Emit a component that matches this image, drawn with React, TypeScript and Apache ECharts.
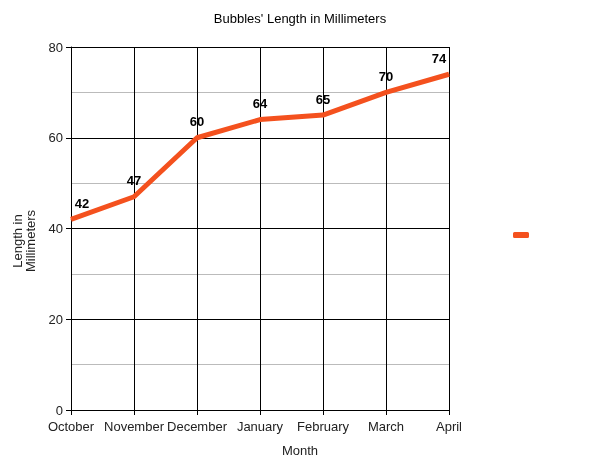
import { useEffect, useRef } from 'react';
import * as echarts from 'echarts';

const months = ['October', 'November', 'December', 'January', 'February', 'March', 'April'];
const lengths = [42, 47, 60, 64, 65, 70, 74];
const yTicks = { min: 0, max: 80, interval: 20 };

const FONT = '"Liberation Sans", Arial, sans-serif';

const App: React.FC = () => {
  const divRef = useRef<HTMLDivElement | null>(null);

  useEffect(() => {
    if (!divRef.current) return;
    const chart = echarts.init(divRef.current, undefined, { renderer: 'svg' });

    const last = lengths.length - 1;
    const options = {
      animation: false,
      textStyle: { fontFamily: FONT },
      title: {
        text: "Bubbles' Length in Millimeters",
        left: 'center',
        top: 7,
        textStyle: { fontFamily: FONT, fontSize: 13, fontWeight: 'normal', color: '#000' },
      },
      legend: {
        left: 508,
        top: 227,
        itemWidth: 16,
        itemHeight: 6,
        icon: 'roundRect',
        formatter: () => '',
        data: [' '],
      },
      grid: { left: 71, right: 151, top: 47, bottom: 53 },
      graphic: [
        {
          type: 'text',
          x: 300,
          y: 450,
          style: { text: 'Month', font: `13px ${FONT}`, fill: '#222', align: 'center', verticalAlign: 'middle' },
        },
        {
          type: 'text',
          x: 24,
          y: 241,
          rotation: Math.PI / 2,
          style: {
            text: 'Length in\nMillimeters',
            font: `13px ${FONT}`,
            fill: '#222',
            align: 'center',
            verticalAlign: 'middle',
            lineHeight: 13,
          },
        },
      ],
      xAxis: {
        type: 'category',
        data: months,
        boundaryGap: false,
        axisLine: { lineStyle: { color: '#000', width: 1 } },
        axisTick: { show: true, length: 5, lineStyle: { color: '#000' } },
        axisLabel: { color: '#222', fontSize: 13, fontFamily: FONT, margin: 10, hideOverlap: false, interval: 0 },
        splitLine: { show: true, lineStyle: { color: '#000', width: 1 } },
      },
      yAxis: {
        type: 'value',
        min: yTicks.min,
        max: yTicks.max,
        interval: yTicks.interval,
        axisLine: { show: true, lineStyle: { color: '#000' } },
        axisTick: { show: true, length: 5, lineStyle: { color: '#000' } },
        axisLabel: { color: '#222', fontSize: 13, fontFamily: FONT, margin: 8 },
        splitLine: { show: true, lineStyle: { color: '#000', width: 1 } },
        minorTick: { show: false, splitNumber: 2 },
        minorSplitLine: { show: true, lineStyle: { color: '#bbb', width: 1 } },
      },
      series: [
        {
          name: ' ',
          type: 'line',
          data: lengths.map((v, i) => ({
            value: v,
            label: { offset: [i === 0 ? 11 : i === last ? -10 : 0, 0] },
          })),
          symbol: 'circle',
          symbolSize: 1,
          showSymbol: true,
          lineStyle: { color: '#f4511e', width: 5 },
          itemStyle: { color: '#f4511e' },
          label: {
            show: true,
            position: 'top',
            distance: 9,
            color: '#000',
            fontWeight: 'bold',
            fontSize: 13,
            fontFamily: FONT,
          },
        },
      ],
    };

    chart.setOption(options as echarts.EChartsOption);
    return () => chart.dispose();
  }, []);

  return <div ref={divRef} style={{ position: 'fixed', left: 0, top: 0, width: 600, height: 463 }} />;
};

export default App;
